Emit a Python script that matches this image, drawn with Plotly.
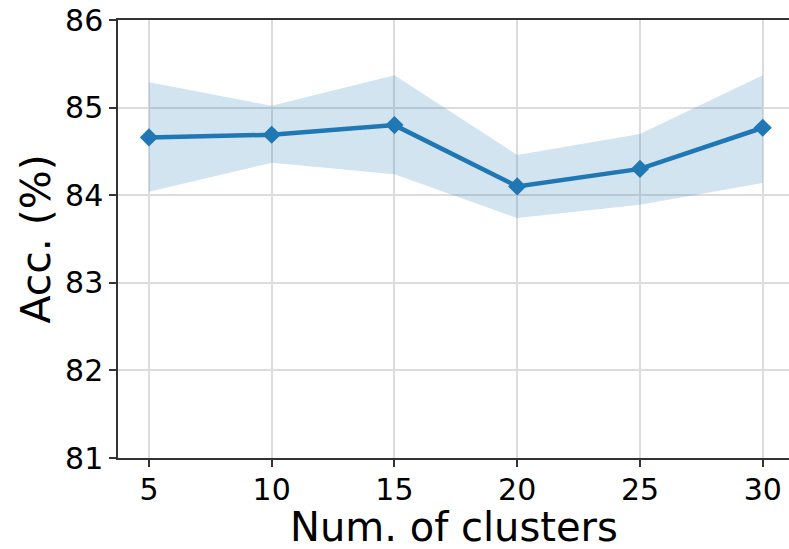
import plotly.graph_objects as go

clusters = [5, 10, 15, 20, 25, 30]
acc_mean = [84.66, 84.69, 84.80, 84.10, 84.30, 84.77]
acc_upper = [85.29, 85.02, 85.37, 84.46, 84.70, 85.37]
acc_lower = [84.04, 84.37, 84.24, 83.74, 83.89, 84.14]
x_ticks = [5, 10, 15, 20, 25, 30]
y_ticks = [81, 82, 83, 84, 85, 86]
x_title = "Num. of clusters"
y_title = "Acc. (%)"

blue = "#1f77b4"
font = "DejaVu Sans"

fig = go.Figure()
fig.add_trace(go.Scatter(x=clusters, y=acc_upper, mode="lines", line=dict(width=0),
                         showlegend=False, hoverinfo="skip"))
fig.add_trace(go.Scatter(x=clusters, y=acc_lower, mode="lines", line=dict(width=0),
                         fill="tonexty", fillcolor="rgba(31,119,180,0.2)",
                         showlegend=False, hoverinfo="skip"))
fig.add_trace(go.Scatter(x=clusters, y=acc_mean, mode="lines+markers",
                         line=dict(color=blue, width=4.5),
                         marker=dict(symbol="diamond", size=14, color=blue),
                         showlegend=False))

fig.update_layout(
    width=789, height=549,
    margin=dict(l=118, r=0, t=20, b=91),
    plot_bgcolor="white", paper_bgcolor="white",
    font=dict(family=font, color="black"),
)
fig.update_xaxes(
    range=[3.74, 31.07], tickvals=x_ticks, ticktext=[str(v) for v in x_ticks],
    showgrid=True, gridcolor="#dcdcdc", gridwidth=1.5,
    showline=True, linecolor="#333333", linewidth=1.5, mirror=True,
    ticks="outside", ticklen=7, tickwidth=1.5, tickcolor="#333333",
    tickfont=dict(size=30, family=font), zeroline=False, ticklabelstandoff=-3,
)
fig.update_yaxes(
    range=[81, 86], tickvals=y_ticks, ticktext=[str(v) for v in y_ticks],
    showgrid=True, gridcolor="#dcdcdc", gridwidth=1.5,
    showline=True, linecolor="#333333", linewidth=1.5, mirror=False,
    ticks="outside", ticklen=7, tickwidth=1.5, tickcolor="#333333",
    tickfont=dict(size=30, family=font), zeroline=False,
)
fig.add_annotation(text=x_title, xref="paper", yref="paper", x=0.5, y=-0.158,
                   xanchor="center", yanchor="middle", showarrow=False,
                   font=dict(size=40, family=font, color="black"))
fig.add_annotation(text=y_title, xref="paper", yref="paper", x=-0.1228, y=0.5,
                   xanchor="center", yanchor="middle", textangle=-90, showarrow=False,
                   font=dict(size=41, family=font, color="black"))

fig.write_html("out.html")
